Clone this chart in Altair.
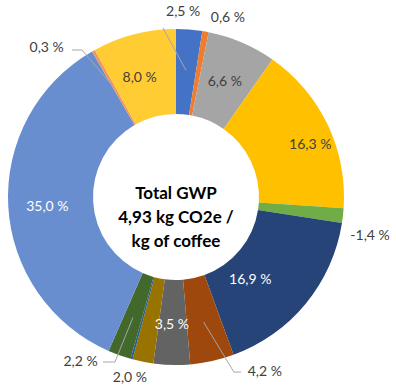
import math
import altair as alt
import pandas as pd

# ---- data ----
values = [2.5, 0.6, 6.6, 16.3, 1.4, 16.9, 4.2, 3.5, 2.0, 0.2, 2.2, 35.0, 0.3, 8.0]
labels = ["2,5 %", "0,6 %", "6,6 %", "16,3 %", "-1,4 %", "16,9 %", "4,2 %",
          "3,5 %", "2,0 %", "", "2,2 %", "35,0 %", "0,3 %", "8,0 %"]
colors = ["#4472C4", "#ED7D31", "#A5A5A5", "#FFC000", "#70AD47", "#264478", "#9E480E",
          "#636363", "#997300", "#255E91", "#43682B", "#698ED0", "#F1975A", "#FFCD33"]
center_text = ["Total GWP", "4,93 kg CO2e /", "kg of coffee"]

# ---- layout / style ----
W, H = 352, 384
CX, CY = W / 2, H / 2
R_OUT, R_IN = 168, 83
label_angle_offset = [-2.3, 6.1, -0.1, 4.3, 5.0, 8.6, -14.5, 0.4, 2.9, 0, 10.3, -1.2, -11.6, -2.6]
label_radius = [185, 186, 125, 144, 198, 111, 196, 128, 187, 0, 191, 129, 197, 124]
label_colors = ["#404040", "#404040", "#404040", "#404040", "#404040", "white", "#404040",
                "white", "#404040", "#404040", "#404040", "white", "#404040", "#404040"]
# leader lines: segment index -> (start radius, elbow angle, elbow radius, tail dx)
leaders = {0: (127, 355.6, 169.5, 0), 6: (128, 161.7, 184.4, 7),
           10: (128, 200.3, 175.9, -12), 12: (125, 327.4, 174.5, -10)}

total = sum(values)
cum = 0.0
mids = []
for v in values:
    mids.append((cum + v / 2) / total * 360)
    cum += v

arc_df = pd.DataFrame({"idx": range(len(values)), "value": values, "color": colors})

lab_df = pd.DataFrame({
    "label": labels,
    "ang": [m + o for m, o in zip(mids, label_angle_offset)],
    "rad": label_radius,
    "tcol": label_colors,
})
lab_df = lab_df[lab_df["label"] != ""]


def pxy(a, r):
    t = math.radians(a)
    return CX + r * math.sin(t), CY - r * math.cos(t)


rows = []
for i, (r0, ea, er, tail) in leaders.items():
    x0, y0 = pxy(mids[i], r0)
    x1, y1 = pxy(ea, er)
    rows.append({"g": i, "o": 0, "x": x0, "y": y0})
    rows.append({"g": i, "o": 1, "x": x1, "y": y1})
    if tail:
        rows.append({"g": i, "o": 2, "x": x1 + tail, "y": y1})
lead_df = pd.DataFrame(rows)

arcs = alt.Chart(arc_df).mark_arc(innerRadius=R_IN, outerRadius=R_OUT).encode(
    theta=alt.Theta("value:Q", stack=True),
    order=alt.Order("idx:Q"),
    color=alt.Color("color:N", scale=None),
)

lines = alt.Chart(lead_df).mark_line(color="#A6A6A6", strokeWidth=1).encode(
    x=alt.X("x:Q", scale=alt.Scale(domain=[0, W], range=[0, W]), axis=None),
    y=alt.Y("y:Q", scale=alt.Scale(domain=[0, H], range=[0, H]), axis=None),
    detail="g:N",
    order="o:Q",
)

texts = alt.Chart(lab_df).mark_text(font="Lato", fontSize=14, align="center", baseline="middle").encode(
    theta=alt.Theta("ang:Q", scale=alt.Scale(domain=[0, 360], range=[0, 2 * math.pi])),
    radius=alt.Radius("rad:Q", scale=alt.Scale(type="linear", domain=[0, 400], range=[0, 400])),
    text="label:N",
    color=alt.Color("tcol:N", scale=None),
)

center = alt.Chart(pd.DataFrame({"a": [0]})).mark_text(
    text=center_text, font="Lato", fontSize=17, fontWeight="bold", color="black",
    lineHeight=24, align="center", baseline="middle",
).encode(x=alt.value(CX), y=alt.value(CY - 3))

chart = alt.layer(arcs, lines, texts, center).resolve_scale(
    theta="independent", radius="independent"
).properties(
    width=W, height=H, autosize="none",
    padding={"left": 0, "top": 5, "right": 44, "bottom": 0},
).configure_view(stroke=None)

chart.save("out.html", embed_options={"renderer": "svg", "actions": False})
